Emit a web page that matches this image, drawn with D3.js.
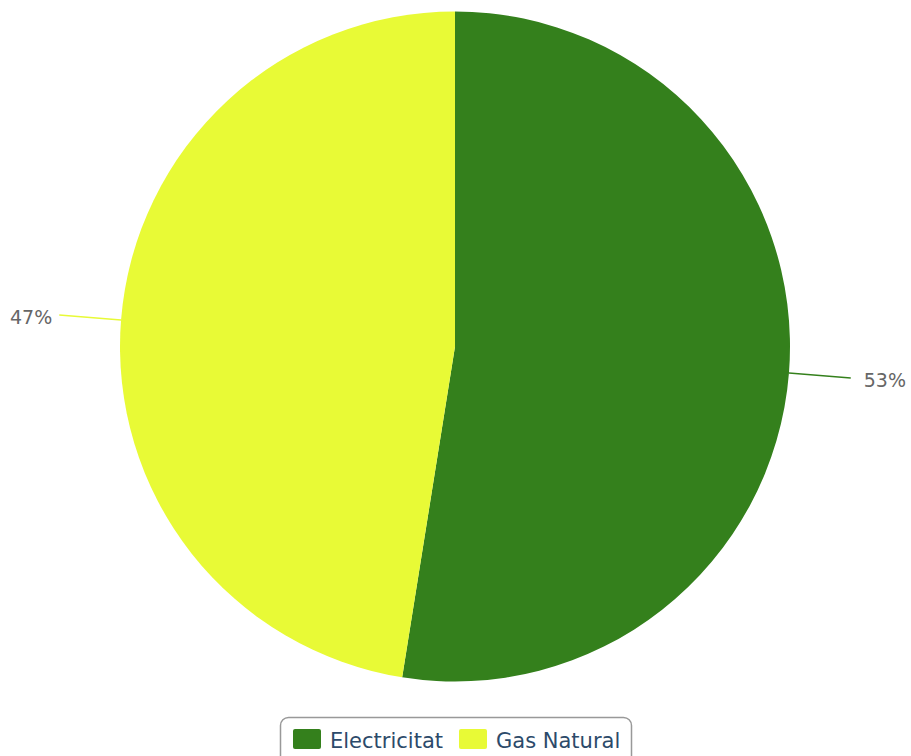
<!DOCTYPE html>
<html>
<head>
<meta charset="utf-8">
<script src="https://cdn.jsdelivr.net/npm/d3@7"></script>
<style>
  body { margin: 0; background: #fff; }
  svg { font-family: "DejaVu Sans", sans-serif; }
</style>
</head>
<body>
<div id="chart"></div>
<script>
// dades
const categories = ['Electricitat', 'Gas Natural']
const values = [52.52, 47.48]
const colors = ['#34801c', '#e8fa36']

const width = 911
const height = 756
const cx = 455
const cy = 346.5
const radius = 335
const lineLen = 62

const svg = d3.select('#chart').append('svg')
  .attr('width', width)
  .attr('height', height)

const color = d3.scaleOrdinal().domain(categories).range(colors)

const pie = d3.pie().sort(null).value(d => d.value)
const arcs = pie(categories.map((c, i) => ({ name: c, value: values[i] })))
const total = d3.sum(values)

const arc = d3.arc().innerRadius(0).outerRadius(radius)

const g = svg.append('g').attr('transform', `translate(${cx},${cy})`)

g.selectAll('path.slice')
  .data(arcs)
  .enter().append('path')
  .attr('class', 'slice')
  .attr('d', arc)
  .attr('fill', d => color(d.data.name))

// punt sobre un radi per a un angle
function pt(a, r) {
  return [r * Math.sin(a), -r * Math.cos(a)]
}

// linies de les etiquetes
g.selectAll('path.link')
  .data(arcs)
  .enter().append('path')
  .attr('class', 'link')
  .attr('fill', 'none')
  .attr('stroke', d => color(d.data.name))
  .attr('stroke-width', 1.5)
  .attr('d', d => {
    const a = (d.startAngle + d.endAngle) / 2
    const p0 = pt(a, radius)
    const p1 = pt(a, radius + lineLen / 2)
    const p2 = pt(a, radius + lineLen)
    return `M${p0}Q${p1} ${p2}`
  })

g.selectAll('text.label')
  .data(arcs)
  .enter().append('text')
  .attr('class', 'label')
  .attr('font-size', '19px')
  .attr('fill', '#666')
  .attr('dy', '0.36em')
  .attr('text-anchor', d => Math.sin((d.startAngle + d.endAngle) / 2) >= 0 ? 'start' : 'end')
  .attr('x', d => {
    const a = (d.startAngle + d.endAngle) / 2
    const p = pt(a, radius + lineLen)
    return p[0] + (Math.sin(a) >= 0 ? 13 : -7)
  })
  .attr('y', d => pt((d.startAngle + d.endAngle) / 2, radius + lineLen)[1] + 2)
  .text(d => Math.round(d.data.value / total * 100) + '%')

// llegenda
const legend = svg.append('g').attr('class', 'legend')

legend.append('rect')
  .attr('x', 280.5)
  .attr('y', 717.5)
  .attr('width', 351)
  .attr('height', 50)
  .attr('rx', 8)
  .attr('fill', '#fff')
  .attr('stroke', '#999')
  .attr('stroke-width', 1.5)

const itemX = [293, 459]
const item = legend.selectAll('g.item')
  .data(categories)
  .enter().append('g')
  .attr('class', 'item')
  .attr('transform', (d, i) => `translate(${itemX[i]},729)`)

item.append('rect')
  .attr('width', 28)
  .attr('height', 20)
  .attr('rx', 2)
  .attr('fill', d => color(d))

item.append('text')
  .attr('x', 37)
  .attr('y', 18.5)
  .attr('font-size', '21px')
  .attr('fill', '#2c4a6a')
  .text(d => d)
</script>
</body>
</html>
